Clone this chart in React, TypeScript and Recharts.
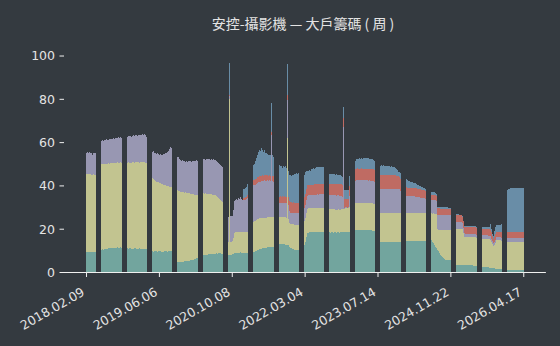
import React from 'react';
import { BarChart, Bar, XAxis, YAxis } from 'recharts';

// Weekly large-holder shares (%), one value per week, stacked bottom -> top.
const tickLabels = ['2018.02.09', '2019.06.06', '2020.10.08', '2022.03.04', '2023.07.14', '2024.11.22', '2026.04.17'];
const tickEvery = 70;

const teal = [
  9.4,9.5,9.5,9.6,9.5,9.5,9.6,9.6,9.5,9.6,9.7,
  10,10.3,10.5,10.6,10.7,10.6,10.8,10.9,10.8,11,11.2,11.1,11.3,11.4,11.2,11.4,11.3,11.5,11.4,11.6,11.5,11.4,11.6,11.5,11.4,
  11.4,11.3,11.2,11.1,11,11.1,11.2,11,10.9,11,11.1,11.2,11,10.9,11,11.1,11,10.9,11,10.8,10.9,10.8,10.7,10.6,
  10.2,10,9.9,9.8,9.7,9.8,9.9,9.8,9.7,9.8,9.9,9.8,9.7,9.6,9.7,9.8,9.9,9.8,9.7,9.8,9.9,10,9.9,9.8,9.6,
  5.5,5,4.8,4.7,4.8,4.9,5,4.9,5,5.1,5.2,5.3,5.2,5.4,5.5,5.6,5.7,5.8,6,6.2,6.3,6.5,6.6,6.8,
  7.5,7.8,8,8.1,8,8.2,8.3,8.2,8.4,8.5,8.4,8.5,8.6,8.7,8.6,8.7,8.8,8.7,8.8,8.9,8.8,8.7,8.6,8.5,8.4,
  8,8,8,8,8.2,8.3,8.5,8.6,8.8,9,9.1,9,9.2,9.1,9.3,9.2,9.1,9,9,9.1,9,9.2,9.4,9.6,
  9.6,9.5,9.5,9.6,9.8,10,10.3,10.5,10.7,10.8,11,11.1,11.2,11.3,11.4,11.5,11.6,11.7,11.8,11.8,11.8,11.9,12,12.2,12.5,
  12.8,13,13.1,13.2,13.3,13.2,13.1,13,12.9,12.8,12.8,12.5,11.8,11.4,11.2,11,10.8,10.6,10.5,10.4,10.3,10.3,10.5,11,
  11.5,12,12.8,14,16.5,18.2,18.4,18.5,18.5,18.6,18.5,18.6,18.5,18.6,18.7,18.6,18.7,18.6,18.7,18.6,18.7,18.6,18.6,18.5,
  18.4,18.5,18.5,18.4,18.5,18.5,18.4,18.5,18.5,18.4,18.5,18.5,18.4,18.5,18.5,18.5,18.5,18.5,18.5,18.6,18.5,18.6,18.8,19,
  19.2,19.3,19.4,19.5,19.5,19.6,19.5,19.6,19.5,19.6,19.5,19.6,19.5,19.6,19.5,19.6,19.5,19.6,19.5,19.5,19.4,19.3,19.1,18,16,
  14.5,14.2,14.1,14.1,14.1,14.1,14.1,14.1,14.1,14.1,14.1,14.1,14.1,14.1,14.1,14.1,14.1,14.1,14.1,14.1,14.1,14.1,14.1,14.1,
  14.3,14.4,14.5,14.5,14.5,14.5,14.5,14.5,14.5,14.5,14.5,14.5,14.5,14.5,14.5,14.5,14.5,14.5,14.5,14.5,14.5,14.5,14.5,14.4,14.3,
  14.3,14.5,14.8,14.2,13.5,12.8,12,11.3,10.5,9.8,9,8.3,7.6,7,6.5,6.2,6,5.9,5.8,5.8,5.7,5.7,5.2,4.5,
  4,3.6,3.5,3.5,3.4,3.4,3.4,3.4,3.4,3.4,3.4,3.4,3.4,3.4,3.4,3.3,3.3,3.3,3.3,3.2,3.2,3.2,3,2.8,
  2.7,2.6,2.5,2.5,2.5,2.5,2.5,2.4,2.4,2.4,2.3,2.3,2.2,2.1,2,1.9,1.8,1.7,1.6,1.5,1.5,1.5,1.4,1.3,1.2,
  1.1,1.1,1,1,1,1,1,1,1,1,1,1,1,1,1,1,1,1,1,
];

const yellow = [
  36.2,36,36.1,35.8,35.9,35.6,35.5,35.7,35.4,35.3,35.5,
  38,38.5,39,39.3,39.3,39.3,39.3,39.3,39.2,39.3,39.2,39.2,39.2,39.2,39.2,39.3,39.3,39.3,39.3,39.3,39.3,39.3,39.3,39.3,39.2,
  39.3,39.5,39.4,39.6,39.9,39.7,39.4,39.7,40,40,39.7,39.7,40.1,40,40,39.7,40,40.2,39.9,40.2,40.2,40,39.8,39.6,
  34.8,34.6,34.3,33.8,33.3,32.7,32.3,32.2,32.1,31.8,31.5,31.4,31.3,31.2,30.9,30.6,30.4,30.3,30.3,30,29.8,29.5,29.5,29.4,29.4,
  33,33.2,33.2,33.1,32.8,32.5,32.2,32.4,32.1,31.8,31.8,31.5,31.4,31.3,31,30.8,30.5,30.5,30.1,29.7,29.5,29.2,29,28.7,
  29.3,28.8,28.5,28.5,28.4,28.3,28,28.2,27.8,27.8,27.7,27.7,27.4,27.2,27.2,26.9,26.6,26.3,25.8,25.1,24.7,24.3,24,23.9,23.6,
  6.5,6,6,72,6,5.8,6,7.5,9.5,9.8,9.6,9.5,9.6,9.4,9.5,9.3,9.4,9.5,9.5,9.4,9.5,9.6,10,11,
  14,14,14,14.1,14,14.2,14.3,14.4,14.3,14.2,14.1,14,14,13.9,13.8,13.9,14,13.9,13.8,13.7,13.7,13.6,13.5,13.4,13.2,
  12.5,12.7,12.6,12.5,12.4,12.5,12.6,12.6,12.7,12.6,49.2,12,11.2,11.1,11.3,11.4,11.5,11.4,11.3,11.4,11.5,11.5,11.8,12,
  12,11.8,11.2,11.3,11,11.2,11.2,11.1,11.1,11,11.1,11.1,11.2,11.1,11.1,11.2,11.1,11.2,11.1,11.2,11.1,11.1,11.1,11.1,
  11,10.9,10.8,10.8,10.7,10.7,10.8,10.7,10.6,10.7,10.6,10.7,10.7,10.6,10.7,10.8,10.7,11,11.1,11,11.1,11,11.5,12,
  12.5,12.6,12.7,12.6,12.7,12.6,12.7,12.6,12.7,12.6,12.6,12.6,12.7,12.6,12.6,12.5,12.6,12.5,12.6,12.5,12.6,12.5,12.4,12,11.5,
  13,13.1,13.2,13.2,13.2,13.3,13.2,13.2,13.2,13.2,13.3,13.2,13.2,13.2,13.2,13.2,13.2,13.2,13.2,13.2,13.2,13.2,13.2,13.2,
  13.3,13.3,13.2,13.2,13.2,13.2,13.2,13.2,13.2,13.2,13.2,13.2,13.2,13.2,13.1,13.1,13.1,13.1,13.1,13.1,13,13,13,12.8,12.8,
  12.8,12.7,12.5,13,13.8,14.4,15,15.5,9.5,10,10.7,11.3,12,12.6,13.1,13.4,13.6,13.7,13.8,13.8,13.8,13.8,13.5,13.5,
  16.5,16.8,16.8,16.8,16.9,16.9,16.9,16.9,16.5,15,13,13,13,13,13,13,13.1,13.1,13.1,13.1,13.1,13.1,13,13,
  13,13.1,13.2,13.2,13.2,13.2,13.2,13.2,13.2,13.1,13,12.8,12,11,10.3,10.8,12,13.1,13.3,13.4,13.5,13.5,13.3,13.2,13,
  13,13,13.1,13.1,13.1,13.1,13.1,13.1,13.1,13.1,13.1,13.1,13.1,13.1,13.1,13.1,13.1,13.1,13.1,
];

const lavender = [
  9.7,10,9.4,10.2,9.6,10.3,9.2,9.9,10.4,10.1,10,
  10.5,10.7,10.7,10.7,11,10.9,11.2,10.9,11.5,11.1,10.8,11.4,11.1,11.3,11.4,11.3,11.1,11.3,11.6,11.1,11.6,11.5,11.6,11.5,11.8,
  11.8,11.9,11.8,12.1,12.1,12.1,12.5,12.1,12.3,12.4,12.3,12.4,12.4,12.3,12.6,12.6,12.7,12.4,12.9,12.6,12.8,12.6,12,10.8,
  11,11.6,11.8,12,12.9,12.9,12.8,12.8,13.3,13,13,13.6,13.5,13.4,14,14.5,15,14.9,15.6,16.4,17.3,18.5,18.1,17.8,17.5,
  15.1,15.2,15.5,15.4,15,14.6,14.4,14.6,14.3,14.8,14.2,14.7,14.5,14.9,14.8,15.1,15,15.3,15.2,15.8,15.6,16.1,15.9,15.8,
  15.4,15.9,15.8,16,16,15.6,16.2,15.8,16.4,16,15.9,16.2,16.1,16.4,16.1,16.5,16.2,16.2,15.9,16,16,16,16.2,16.1,16,
  11.5,11.5,11.5,1.5,11.8,11.9,11.5,12.9,14.7,14.7,15.3,15.1,15.6,15.5,15.9,15.5,14.8,15,15,15.2,15.3,15.5,16,17,
  16.5,16.5,16.8,16.5,16.7,16.6,16.9,16.8,16.9,17,17.1,17.2,17,17.3,17.2,17,16.9,16.8,16.9,16.8,37.9,16.7,16.5,16,15.5,
  6.5,6.3,6.3,6.4,6.3,6.4,6.3,6.5,6.4,6.5,17.6,6.8,5.2,5.1,5,5.1,5.2,5.4,5.5,5.6,5.6,5.6,5.8,6,
  6,6,6,6.1,6.1,6.1,6.1,6.1,6.1,6.2,6.1,6.1,6.2,6.3,6.2,6.3,6.2,6.3,6.4,6.3,6.4,6.4,6.3,6.2,
  6.3,6.4,6.5,6.5,6.5,6.5,6.5,6.5,6.5,6.4,6.5,6.4,6.4,6.4,6.3,5.5,38.1,0.5,0.5,0.5,0.4,0.5,5,8,
  9.5,10,10.2,10.3,10.3,10.4,10.3,10.4,10.3,10.4,10.4,10.3,10.3,10.4,10.4,10.4,10.3,10.4,10.3,10.4,10.4,10.3,10.2,9.5,9.3,
  11,11.3,11.5,11.5,11.4,11.4,11.5,11.4,11.5,11.4,11.4,11.5,11.4,11.4,11.4,11.4,11.4,11.4,11.3,11.3,11.3,11.2,10.5,10,
  8.5,7.8,7.6,7.6,7.6,7.6,7.6,7.6,7.6,7.5,7.5,7.5,7.4,7.4,7.3,7.2,7.1,7,6.9,6.8,6.8,6.7,6.5,6,6,
  6,5.5,6,6.1,6.1,6.2,6.3,6.3,6.6,6.7,6.8,6.8,6.8,6.8,6.8,6.8,6.8,6.8,6.8,6.8,6.9,6.9,6.5,6,
  3.2,3.1,3.1,3.1,3.1,3.1,3.1,3,2.8,2.2,1.7,1.6,1.6,1.6,1.6,1.6,1.6,1.6,1.6,1.6,1.6,1.6,1.5,1.5,
  1.5,1.5,1.5,1.5,1.5,1.5,1.5,1.5,1.5,1.5,1.6,1.6,1.5,1.4,1.2,1.3,1.4,1.4,1.4,1.4,1.4,1.4,1.4,1.5,1.6,
  1.6,1.7,1.7,1.7,1.7,1.7,1.7,1.7,1.7,1.7,1.7,1.7,1.7,1.7,1.7,1.7,1.7,1.7,1.7,
];

const salmon = [
  0,0,0,0,0,0,0,0,0,0,0,
  0,0,0,0,0,0,0,0,0,0,0,0,0,0,0,0,0,0,0,0,0,0,0,0,0,
  0,0,0,0,0,0,0,0,0,0,0,0,0,0,0,0,0,0,0,0,0,0,0,0,
  0,0,0,0,0,0,0,0,0,0,0,0,0,0,0,0,0,0,0,0,0,0,0,0,0,
  0,0,0,0,0,0,0,0,0,0,0,0,0,0,0,0,0,0,0,0,0,0,0,0,
  0,0,0,0,0,0,0,0,0,0,0,0,0,0,0,0,0,0,0,0,0,0,0,0,0,
  0,0,0,0.5,0,0,0,0,0,0,0,0,0,0,0,0,0,1,1,1.1,1.2,1.5,1.8,2,
  1.8,2,2.3,2.4,2.5,2.4,2.5,2.6,2.5,2.4,2.5,2.6,2.5,2.4,2.5,2.6,2.5,2.4,2.5,2.5,1.6,2.6,2.7,3,3.2,
  3,3,3,3.1,3,3.1,3,3.1,3,3.1,2.3,3.4,4.6,4.8,4.9,4.8,4.9,4.7,4.7,4.6,4.6,4.6,4.7,4.8,
  4.8,5,5,5,4.9,4.7,4.6,4.6,4.7,4.6,4.7,4.7,4.8,4.7,4.8,4.8,4.9,4.8,4.9,4.8,4.8,4.9,5,5.2,
  5.3,5.4,5.3,5.4,5.3,5.4,5.3,5.4,5.4,5.4,5.3,5.3,5.4,5.3,5.3,5.5,4,3.8,3.8,3.9,3.8,3.8,4.5,5,
  5,5.2,5.3,5.4,5.4,5.5,5.5,5.4,5.5,5.5,5.4,5.5,5.5,5.4,5.5,5.5,5.5,5.4,5.5,5.5,5.5,5.5,5.6,5.8,6,
  6,6.1,6.2,6.2,6.2,6.2,6.2,6.3,6.2,6.2,6.2,6.2,6.2,6.3,6.2,6.2,6.2,6.2,6.2,6.1,6,5.8,5.5,4.5,
  4.2,4.1,4,4,3.9,3.9,3.9,3.9,3.9,3.9,3.8,3.8,3.8,3.8,3.8,3.8,3.8,3.8,3.8,3.8,3.8,3.8,3.7,3.5,3.4,
  3.3,2.8,2.4,2.4,2.3,2.3,2.3,2.3,3.1,3.1,3.1,3.1,3.1,3.1,3.1,3.1,3.1,3.1,3.1,3.1,3.1,3.1,3,3,
  3,3.1,3.1,3.1,3.1,3.1,3.1,3.1,3.1,3.1,3.1,3.1,3.1,3.1,3.1,3.1,3.1,3.1,3.1,3.1,3.1,3.1,3.1,3.1,
  3.1,3.1,3.1,3.1,3.1,3.1,3.1,3.1,3.1,3.1,3.1,3.1,2.8,2.3,2,2.2,2.4,2.4,2.4,2.4,2.4,2.4,2.5,2.6,2.7,
  2.8,2.8,2.8,2.8,2.8,2.8,2.8,2.8,2.8,2.8,2.8,2.8,2.8,2.8,2.8,2.8,2.8,2.8,2.8,
];

const blue = [
  0,0,0,0,0,0,0,0,0,0,0,
  0,0,0,0,0,0,0,0,0,0,0,0,0,0,0,0,0,0,0,0,0,0,0,0,0,
  0,0,0,0,0,0,0,0,0,0,0,0,0,0,0,0,0,0,0,0,0,0,0,0,
  0,0,0,0,0,0,0,0,0,0,0,0,0,0,0,0,0,0,0,0,0,0,0,0,0,
  0,0,0,0,0,0,0,0,0,0,0,0,0,0,0,0,0,0,0,0,0,0,0,0,
  0,0,0,0,0,0,0,0,0,0,0,0,0,0,0,0,0,0,0,0,0,0,0,0,0,
  0,0,0,14.7,0,0,0,0,0,0,0,0,0,0,0,0,0,4,4.2,4.3,4.5,5,6,7,
  6.5,7,7.2,7.6,8.3,9.5,10.4,11.5,12.2,11.6,12.6,11.5,10.9,11.7,10.4,10.3,9.8,9.7,9.3,9.5,13.3,9.4,8.5,7,6,
  14,14.5,14.6,13.9,14.3,13.1,14,13.5,14.2,13.3,14.6,12.3,12.2,12.6,12.1,12.9,12.5,13.4,13.6,13.8,13.6,13.8,13.5,13.5,
  12.5,11.7,10,9.8,8.5,6.5,6.4,7,6.6,7.4,7.2,7.6,7.3,7.8,7.8,7.7,8,7.7,7.7,7.9,7.6,7.8,6.5,5.5,
  5,4.7,4.6,4.4,4.5,4.3,4.5,4.4,4.2,4.4,4.3,4.2,4.1,4.2,4,3.7,5.2,4.4,4.2,4.2,4.1,4.1,5,5,
  4,4,3.6,3.8,4.3,4.5,4.6,4.8,4.6,4.9,4.7,4.8,4.9,4.7,4.8,4.7,4.9,4.7,4.6,4.5,4.3,4.2,4,4,4,
  4,4.3,4.4,4.6,4.4,4.5,4.3,4.4,4.2,4.3,4.1,4.1,4,4,3.9,3.9,3.8,3.6,3.2,2.6,2,1.9,2.5,3.5,
  4.5,4,4.1,3.9,3.3,3.2,3.1,2.6,2.8,2.6,2.5,2.3,2.3,2.1,1.8,1.7,1.6,1.5,1.3,1.2,1.1,1,1,1,1,
  1,1.5,1.5,1.4,1.5,1.3,1,0.8,0.7,0.7,0.7,0.8,0.7,0.7,0.7,0.7,0.7,0.6,0.6,0.5,0.5,0.4,0.3,0.3,
  0.3,0.3,0.3,0.3,0.3,0.2,0.2,0.2,0.2,0.2,0.3,0.4,0.4,0.4,0.4,0.4,0.4,0.4,0.4,0.4,0.4,0.4,0.4,0.5,
  0.7,0.7,0.7,0.7,0.7,0.6,0.6,0.6,0.7,0.8,1,2.8,1.5,1.2,1.5,2.8,3.5,3.2,3.1,3.1,3,3,4,8,14,
  18,19.5,19.7,20,20.2,20.3,20.3,20.4,20.3,20.4,20.4,20.5,20.4,20.4,20.5,20.4,20.4,20.3,20.3,
];

const seriesKeys = ['teal', 'yellow', 'lavender', 'salmon', 'blue'];
const seriesColors = ['#72a59e', '#c2c490', '#9897b2', '#bf6b63', '#698da7'];

const rows = teal.map((v, i) => ({
  i,
  teal: v,
  yellow: yellow[i] ?? 0,
  lavender: lavender[i] ?? 0,
  salmon: salmon[i] ?? 0,
  blue: blue[i] ?? 0,
}));

const BG = '#343a40';
const TXT = '#e4e4e4';
const LINE = '#f0f0f0';

function XTick(props: any) {
  const { x, y, payload } = props;
  const k = Math.round(Number(payload.value) / tickEvery);
  const label = tickLabels[k] ?? '';
  const ax = x - 1;
  const ay = y + 17.5;
  return (
    <text x={ax} y={ay} textAnchor="end" fill={TXT} fontSize={12.5} fontFamily="'DejaVu Sans', sans-serif"
      transform={`rotate(-30 ${ax} ${ay})`}>{label}</text>
  );
}

export default function App() {
  return (
    <div style={{ position: 'fixed', left: 0, top: 0, width: 560, height: 346, background: BG, overflow: 'hidden' }}>
      <style>{`.recharts-rectangle{shape-rendering:crispEdges}`}</style>
      <svg width={560} height={50} style={{ position: 'absolute', left: 0, top: 0 }}>
        <text x={303} y={29} textAnchor="middle" fill={TXT} fontSize={14}
          fontFamily="'Noto Sans CJK TC', 'Noto Sans CJK SC', sans-serif">安控-攝影機 — 大戶籌碼 ( 周 )</text>
      </svg>
      <div style={{ position: 'absolute', left: 0, top: 0 }}>
        <BarChart width={560} height={346} data={rows} barCategoryGap="10%"
          margin={{ top: 45.2, right: 14.1, bottom: 0, left: 0 }}>
          <XAxis dataKey="i" type="category" height={73.5} interval={tickEvery - 1}
            padding={{ left: 22, right: 21.62 }}
            axisLine={{ stroke: LINE, strokeWidth: 1 }} tickLine={{ stroke: LINE }}
            tickSize={4.5} tickMargin={0} tick={<XTick />} />
          <YAxis type="number" domain={[0, 105]} ticks={[0, 20, 40, 60, 80, 100]} width={64}
            axisLine={false} tickLine={{ stroke: LINE }} tickSize={4.5} tickMargin={4.5}
            tick={{ fill: TXT, fontSize: 12.5, fontFamily: "'DejaVu Sans', sans-serif" }} />
          {seriesKeys.map((k, idx) => (
            <Bar key={k} dataKey={k} stackId="a" fill={seriesColors[idx]} isAnimationActive={false} />
          ))}
        </BarChart>
      </div>
    </div>
  );
}
